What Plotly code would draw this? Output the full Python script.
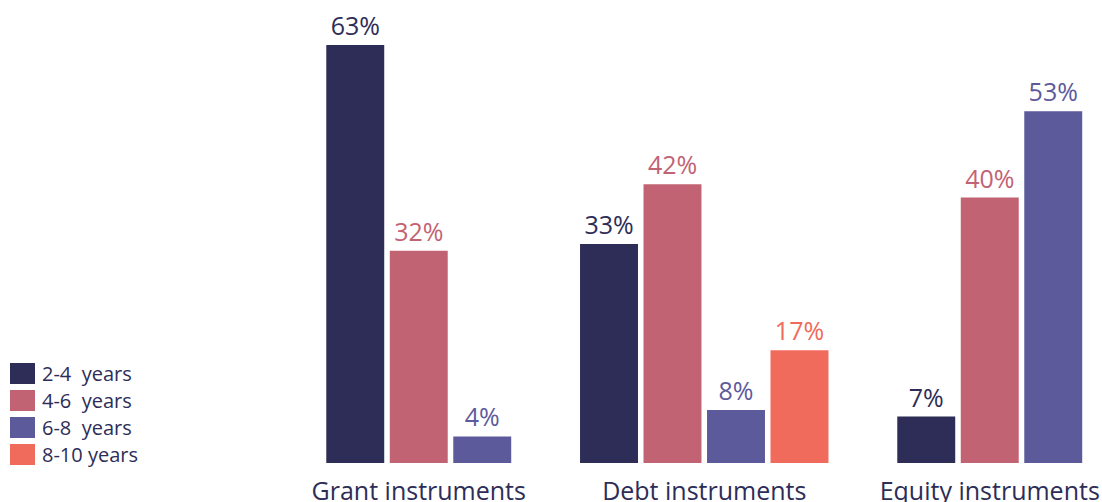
import plotly.graph_objects as go

categories = ["Grant instruments", "Debt instruments", "Equity instruments"]
series_names = ["2-4\u00a0 years", "4-6\u00a0 years", "6-8\u00a0 years", "8-10 years"]
series_colors = ["#2d2d57", "#c26373", "#5d5a9b", "#f06b5b"]
values = {
    "2-4\u00a0 years": [63, 33, 7],
    "4-6\u00a0 years": [32, 42, 40],
    "6-8\u00a0 years": [4, 8, 53],
    "8-10 years": [None, 17, None],
}

W, H = 1102, 502
ML, MR, MT, MB = 276, 0, 0, 39
PW, PH = W - ML - MR, H - MT - MB
unit_px = 285.5
bar_w = 0.203
step = 0.2224
FONT = "Open Sans"
TEXT_COLOR = "#2d2d57"

# offsets computed so that only present bars are centred in each group
present = [[s for s in series_names if values[s][i] is not None] for i in range(len(categories))]

fig = go.Figure()
for s, col in zip(series_names, series_colors):
    xs, ys, offs, txt = [], [], [], []
    for i, c in enumerate(categories):
        v = values[s][i]
        if v is None:
            continue
        n = len(present[i])
        j = present[i].index(s)
        xs.append(c)
        ys.append(v)
        offs.append((j - (n - 1) / 2) * step - bar_w / 2)
        txt.append(f"{v}%")
    fig.add_trace(go.Bar(
        x=xs, y=ys, name=s, offset=offs, width=bar_w,
        marker=dict(color=col, line=dict(width=0)),
        text=txt, textposition="outside", constraintext="none",
        textfont=dict(family=FONT, size=25, color=col),
        cliponaxis=False, showlegend=False, hoverinfo="skip",
    ))

x_range = [-0.5, -0.5 + PW / unit_px]
y_top = PH / 6.635

def px_x(p):
    return (p - ML) / PW

def px_y(p):
    return (H - MB - p) / PH

shapes, annotations = [], []
for k, (s, col) in enumerate(zip(series_names, series_colors)):
    top = 363 + k * 27
    shapes.append(dict(type="rect", xref="paper", yref="paper",
                       x0=px_x(10), x1=px_x(35), y0=px_y(top + 21), y1=px_y(top),
                       fillcolor=col, line=dict(width=0)))
    annotations.append(dict(xref="paper", yref="paper", x=px_x(40), y=px_y(top + 10.5),
                            text=s, showarrow=False, xanchor="left", yanchor="middle",
                            font=dict(family=FONT, size=20, color=TEXT_COLOR)))

fig.update_layout(
    width=W, height=H,
    margin=dict(l=ML, r=MR, t=MT, b=MB, autoexpand=False),
    barmode="overlay",
    plot_bgcolor="white", paper_bgcolor="white",
    showlegend=False,
    xaxis=dict(type="category", categoryorder="array", categoryarray=categories,
               range=x_range, showgrid=False, zeroline=False, showline=False,
               ticks="", ticklabelstandoff=11, automargin=False,
               tickfont=dict(family=FONT, size=25, color=TEXT_COLOR)),
    yaxis=dict(range=[0, y_top], showgrid=False, zeroline=False, showline=False,
               showticklabels=False, ticks="", automargin=False),
    shapes=shapes, annotations=annotations,
)

fig.write_html("out.html", config={"displayModeBar": False, "staticPlot": True},
               post_script="document.body.style.margin='0';document.body.style.overflow='hidden';")
